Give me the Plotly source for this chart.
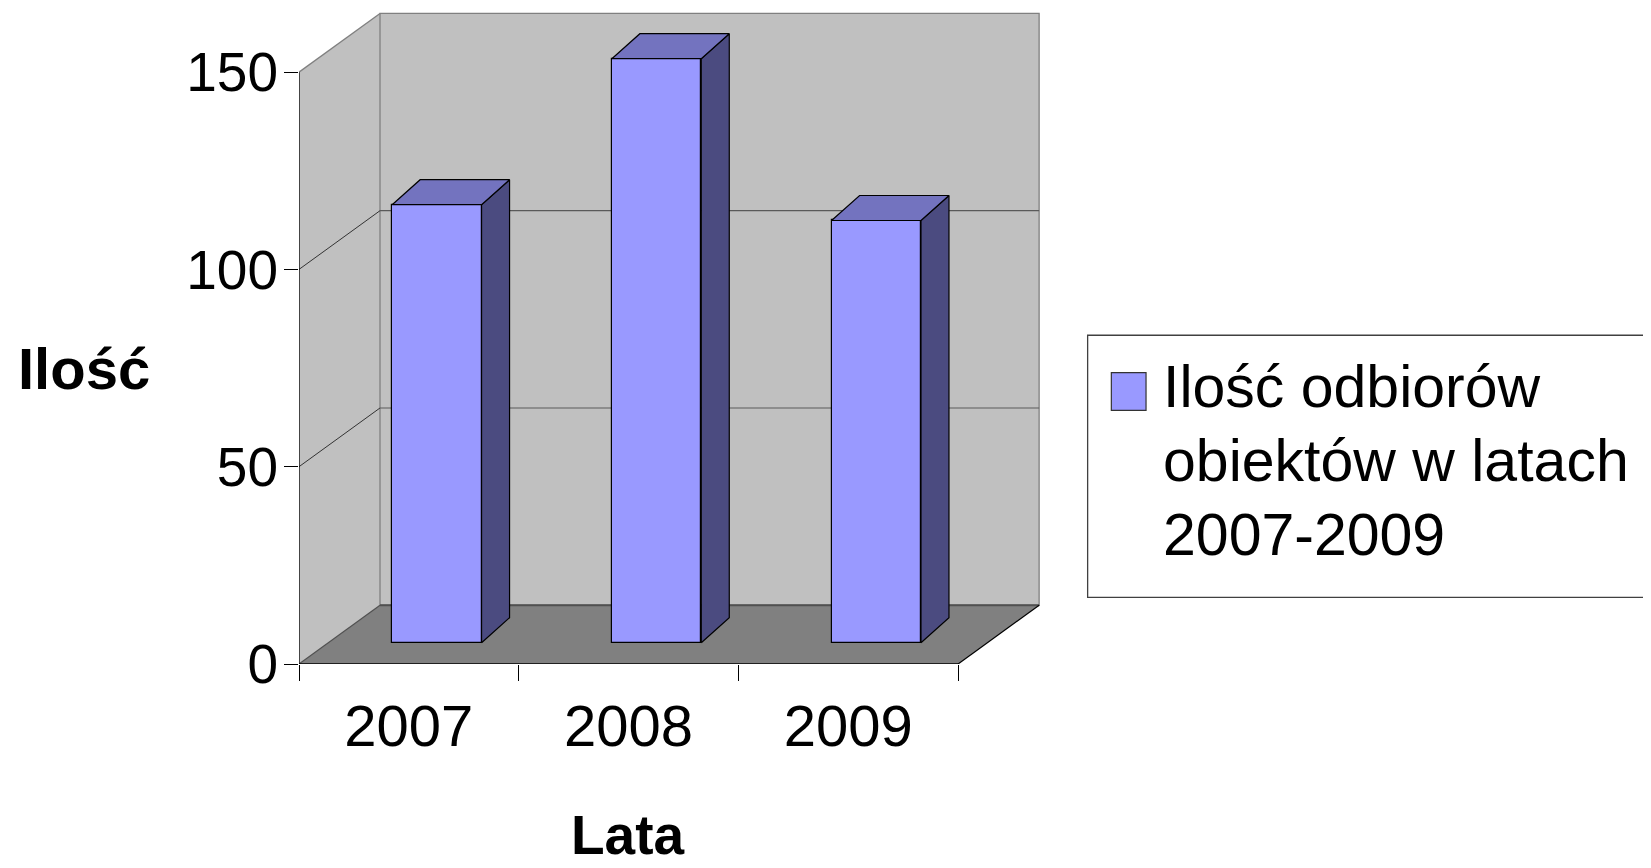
import plotly.graph_objects as go

# ---------------- data ----------------
years = ["2007", "2008", "2009"]
values = [111, 148, 107]
y_ticks = [0, 50, 100, 150]
y_title = "Ilość"
x_title = "Lata"
legend_lines = ["Ilość odbiorów", "obiektów w latach", "2007-2009"]

# ---------------- geometry (pixels, window coordinates) ----------------
OFF = 8                   # default page body margin
W, H = 1651 - OFF, 868 - OFF
L = 298.7 - OFF           # left of plot area (front value axis)
XU = 219.7                # px per category unit
X0, X1 = -0.5, 2.95
plotW = (X1 - X0) * XU
R = W - L - plotW
YU = 3.944                # px per value unit
ZERO_PX = 663.6 - OFF
Y0, Y1 = 0, 166
plotH = (Y1 - Y0) * YU
B = H - ZERO_PX
T = H - B - plotH

DX, DY = 81 / XU, 58.7 / YU      # wall depth in data units
BFX, BFY = 28 / XU, 21.3 / YU    # bar front-face offset
BDX, BDY = 28 / XU, 25 / YU      # bar depth
BW = 89.4 / XU                   # bar width

def px2x(px):
    return (px - OFF - L) / plotW

def py2y(py):
    return (ZERO_PX - (py - OFF)) / plotH

n = len(years)
xl, xr = -0.5, n - 0.5
top = y_ticks[-1]

C_WALL = "#C0C0C0"
C_FLOOR = "#808080"
C_FRONT = "#9999FF"
C_TOP = "#7373BF"
C_SIDE = "#4B4B80"

shapes = []
def line(x0, y0, x1, y1, color, width=1.2):
    shapes.append(dict(type="line", xref="x", yref="y", x0=x0, y0=y0, x1=x1, y1=y1,
                       line=dict(color=color, width=width), layer="below"))

# left wall
shapes.append(dict(type="path", xref="x", yref="y", layer="below",
                   path=f"M {xl},0 L {xl},{top} L {xl+DX},{top+DY} L {xl+DX},{DY} Z",
                   fillcolor=C_WALL, line=dict(width=0)))
# back wall
shapes.append(dict(type="rect", xref="x", yref="y", layer="below",
                   x0=xl + DX, x1=xr + DX, y0=DY, y1=top + DY,
                   fillcolor=C_WALL, line=dict(color="#808080", width=1.3)))
# floor
shapes.append(dict(type="path", xref="x", yref="y", layer="below",
                   path=f"M {xl},0 L {xr},0 L {xr+DX},{DY} L {xl+DX},{DY} Z",
                   fillcolor=C_FLOOR, line=dict(width=0)))
# gridlines
for t in y_ticks[1:-1]:
    line(xl + DX, t + DY, xr + DX, t + DY, "#5a5a5a", 1.2)
    line(xl, t, xl + DX, t + DY, "#333333", 1.0)
# edges
line(xl, top, xl + DX, top + DY, "#808080", 1.3)
line(xl + DX, DY, xr + DX, DY, "#505050", 2.0)
line(xl, 0, xl + DX, DY, "#505050", 1.2)
line(xr, 0, xr + DX, DY, "#000000", 1.2)
line(xl, 0, xr, 0, "#000000", 1.5)
line(xl, 0, xl, top, "#000000", 1.3)

# ---------------- bars ----------------
xs = [i + BFX for i in range(n)]
fig = go.Figure()
fig.add_trace(go.Bar(x=xs, y=values, base=BFY, width=BW,
                     marker=dict(color=C_FRONT, line=dict(color="#000000", width=1.2)),
                     hoverinfo="skip", showlegend=False))

side_x, side_y, top_x, top_y = [], [], [], []
for i, v in enumerate(values):
    x0 = xs[i] - BW / 2
    x1 = xs[i] + BW / 2
    y0 = BFY
    y1 = BFY + v
    side_x += [x1, x1 + BDX, x1 + BDX, x1, x1, None]
    side_y += [y0, y0 + BDY, y1 + BDY, y1, y0, None]
    top_x += [x0, x1, x1 + BDX, x0 + BDX, x0, None]
    top_y += [y1, y1, y1 + BDY, y1 + BDY, y1, None]

fig.add_trace(go.Scatter(x=side_x, y=side_y, mode="lines", fill="toself", fillcolor=C_SIDE,
                         line=dict(color="#000000", width=1.2), hoverinfo="skip", showlegend=False))
fig.add_trace(go.Scatter(x=top_x, y=top_y, mode="lines", fill="toself", fillcolor=C_TOP,
                         line=dict(color="#000000", width=1.2), hoverinfo="skip", showlegend=False))

# ---------------- legend (manual) ----------------
shapes.append(dict(type="rect", xref="paper", yref="paper",
                   x0=px2x(1087.3), x1=px2x(1720), y0=py2y(597), y1=py2y(335),
                   fillcolor="white", line=dict(color="#404040", width=1.3), layer="above"))
shapes.append(dict(type="rect", xref="paper", yref="paper",
                   x0=px2x(1111), x1=px2x(1145.7), y0=py2y(410), y1=py2y(372.3),
                   fillcolor=C_FRONT, line=dict(color="#333333", width=1.2), layer="above"))

SANS = "Liberation Sans, Arial, sans-serif"

annotations = []
for k, txt in enumerate(legend_lines):
    annotations.append(dict(text=txt, xref="paper", yref="paper", x=px2x(1161), y=py2y(387 + 74 * k),
                            xanchor="left", yanchor="middle", showarrow=False,
                            font=dict(family=SANS, size=59, color="black")))
annotations.append(dict(text=f"<b>{y_title}</b>", xref="paper", yref="paper", x=px2x(84), y=py2y(368.6),
                        xanchor="center", yanchor="middle", showarrow=False,
                        font=dict(family=SANS, size=58, color="black")))
annotations.append(dict(text=f"<b>{x_title}</b>", xref="paper", yref="paper", x=px2x(627.6), y=py2y(835),
                        xanchor="center", yanchor="middle", showarrow=False, borderpad=0,
                        font=dict(family=SANS, size=55, color="black")))

fig.update_layout(
    width=W, height=H,
    margin=dict(l=L, r=R, t=T, b=B, autoexpand=False),
    paper_bgcolor="white", plot_bgcolor="white",
    showlegend=False, bargap=0,
    shapes=shapes, annotations=annotations,
    xaxis=dict(range=[X0, X1], showgrid=False, zeroline=False, showline=False,
               tickmode="array", tickvals=list(range(n)), ticktext=years, ticks="",
               ticklabelstandoff=23,
               tickfont=dict(family=SANS, size=58, color="black"),
               minor=dict(tickmode="array", tickvals=[xl + k for k in range(n + 1)],
                          ticks="outside", ticklen=16, tickcolor="black", tickwidth=1.2, showgrid=False)),
    yaxis=dict(range=[Y0, Y1], showgrid=False, zeroline=False, showline=False,
               tickmode="array", tickvals=y_ticks, ticks="outside", ticklen=14,
               tickcolor="black", tickwidth=1.2, ticklabelstandoff=-5,
               tickfont=dict(family=SANS, size=55, color="black")),
)

fig.write_html("out.html")
